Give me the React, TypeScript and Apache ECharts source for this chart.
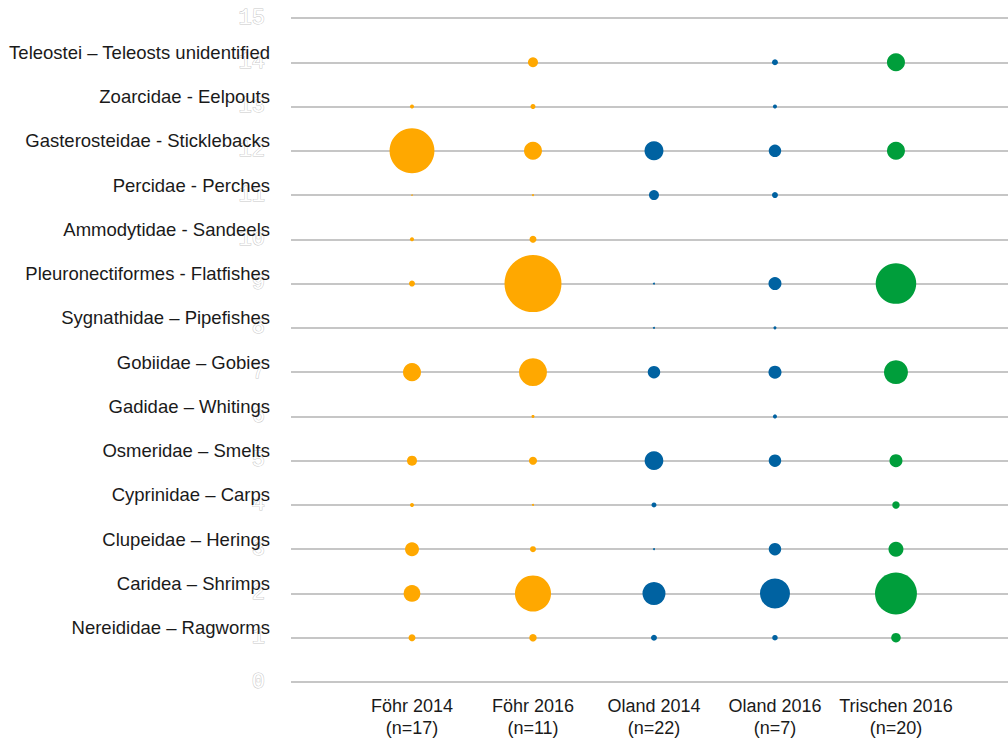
import React, { useEffect, useRef } from "react";
import * as echarts from "echarts";

const sites = ["Föhr 2014\n(n=17)", "Föhr 2016\n(n=11)", "Oland 2014\n(n=22)", "Oland 2016\n(n=7)", "Trischen 2016\n(n=20)"];
const taxa = [
  "",
  "Nereididae – Ragworms",
  "Caridea – Shrimps",
  "Clupeidae – Herings",
  "Cyprinidae – Carps",
  "Osmeridae – Smelts",
  "Gadidae – Whitings",
  "Gobiidae – Gobies",
  "Sygnathidae – Pipefishes",
  "Pleuronectiformes - Flatfishes",
  "Ammodytidae - Sandeels",
  "Percidae - Perches",
  "Gasterosteidae - Sticklebacks",
  "Zoarcidae - Eelpouts",
  "Teleostei – Teleosts unidentified",
  "",
];
const yTicks = [0, 1, 2, 3, 4, 5, 6, 7, 8, 9, 10, 11, 12, 13, 14, 15];

// values per taxon row 1..14 (null = absent)
const foehr2014 = [1.5, 8.6, 6.0, 0.5, 3.1, null, 10, null, 1.1, 0.5, 0.07, 62, 0.5, null];
const foehr2016 = [1.7, 40, 1.1, 0.12, 2.0, 0.28, 24, null, 100, 1.5, 0.12, 10, 0.77, 3.1];
const oland2014 = [1.1, 16.3, 0.12, 0.77, 10.8, null, 4.8, 0.12, 0.12, null, 3.1, 11.1, null, null];
const oland2016 = [0.93, 27.7, 4.8, null, 4.8, 0.5, 5.2, 0.28, 5.2, null, 1.1, 4.8, 0.5, 1.1];
const trischen2016 = [2.8, 54, 6.9, 1.7, 5.2, null, 17.7, null, 50.5, null, null, 10, null, 10];

const seriesValues = [foehr2014, foehr2016, oland2014, oland2016, trischen2016];
const seriesColors = ["#FFA800", "#FFA800", "#0062A1", "#0062A1", "#009E3B"];

export default function App() {
  const ref = useRef<HTMLDivElement>(null);
  useEffect(() => {
    if (!ref.current) return;
    const chart = echarts.init(ref.current, null, { renderer: "svg" });
    const series = seriesValues.map((vals, si) => ({
      type: "scatter",
      name: sites[si],
      data: vals
        .map((v, i) => (v == null ? null : [si + 1, i + 1, v]))
        .filter((d) => d !== null),
      symbolSize: (d: number[]) => 5.7 * Math.sqrt(d[2]),
      itemStyle: { color: seriesColors[si], opacity: 1 },
      z: 5,
    }));
    chart.setOption({
      animation: false,
      backgroundColor: "#ffffff",
      grid: { left: 291, top: 18, height: 664, right: 0 },
      xAxis: {
        type: "value",
        min: 0,
        max: 5.926,
        interval: 1,
        axisLine: { show: false },
        axisTick: { show: false },
        splitLine: { show: false },
        axisLabel: {
          margin: 13,
          fontSize: 18,
          lineHeight: 22,
          color: "#1a1a1a",
          showMaxLabel: false,
          fontFamily: "Liberation Sans, Arial, sans-serif",
          formatter: (v: number) => (v >= 1 && v <= 5 ? sites[Math.round(v) - 1] : ""),
        },
      },
      yAxis: [
        {
          type: "value",
          min: 0,
          max: 15,
          interval: 1,
          position: "left",
          axisLine: { show: false },
          axisTick: { show: false },
          splitLine: { show: true, lineStyle: { color: "#b3b3b3", width: 1.6 } },
          axisLabel: {
            margin: 26,
            fontSize: 22,
            fontFamily: "Liberation Mono, DejaVu Sans Mono, monospace",
            color: "#ffffff",
            textBorderColor: "#c8c8c8",
            textBorderWidth: 1,
            formatter: (v: number) => String(yTicks[v]),
          },
        },
        {
          type: "value",
          min: 0,
          max: 15,
          interval: 1,
          position: "left",
          axisLine: { show: false },
          axisTick: { show: false },
          splitLine: { show: false },
          axisLabel: {
            margin: 21,
            fontSize: 18.5,
            lineHeight: 20,
            verticalAlign: "bottom",
            color: "#1a1a1a",
            fontFamily: "Liberation Sans, Arial, sans-serif",
            formatter: (v: number) => taxa[v] || "",
          },
        },
      ],
      series,
    });
    return () => chart.dispose();
  }, []);
  return (
    <div
      ref={ref}
      style={{ position: "fixed", left: 0, top: 0, width: 1008, height: 742, background: "#fff" }}
    />
  );
}
